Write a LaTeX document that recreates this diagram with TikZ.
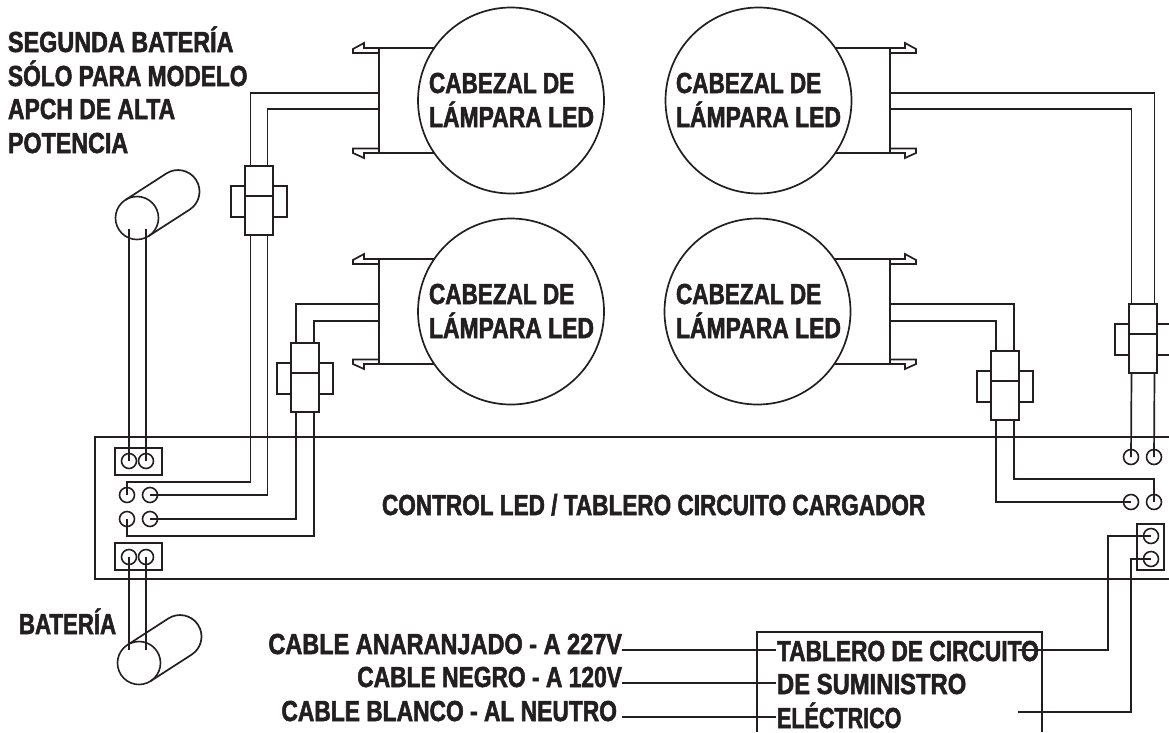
\documentclass[tikz,border=0pt]{standalone}
\usepackage{fontspec}
\newfontfamily\lblfont{Liberation Sans Bold}[FakeStretch=0.79,FakeBold=1.8]
\definecolor{ink}{HTML}{231F20}
\newcommand{\sx}[2]{\scalebox{#1}[1]{#2}}
\tikzset{
  wire/.style={draw=ink,line width=1.7pt,line join=miter},
  head/.style={circle,draw=ink,line width=1.7pt,fill=white,minimum size=186pt,inner sep=0pt,outer sep=0pt},
  term/.style={circle,draw=ink,line width=1.6pt,minimum size=15pt,inner sep=0pt,outer sep=0pt},
  lbl/.style={text=ink,font=\fontsize{29}{29}\selectfont\lblfont,inner sep=0pt,outer sep=0pt},
  lblw/.style={lbl,anchor=base west},
  lble/.style={lbl,anchor=base east},
  tbox/.style={draw=ink,line width=1.7pt,inner sep=0pt,outer sep=0pt}
}
% plug: name, centre x, top y, half wire spacing
\newcommand{\plugshape}[4]{%
  \coordinate (#1-tl) at (#2-#4,#3);
  \coordinate (#1-tr) at (#2+#4,#3);
  \coordinate (#1-bl) at (#2-#4,#3+69);
  \coordinate (#1-br) at (#2+#4,#3+69);
  \draw[wire] (#2-14,#3) rectangle (#2+14,#3+30);
  \draw[wire] (#2-14,#3+30) rectangle (#2+14,#3+69);
  \draw[wire] (#2+14,#3+20) -- (#2+28,#3+20) -- (#2+28,#3+51) -- (#2+14,#3+51);
  \draw[wire] (#2-14,#3+20) -- (#2-28,#3+20) -- (#2-28,#3+51) -- (#2-14,#3+51);
}
% head flange: x of bar, y of top, direction (+1 hooks right, -1 hooks left)
\newcommand{\flange}[3]{%
  \draw[wire] (#1,#2) -- (#1,#2+105);
  \draw[wire] (#1,#2) -- (#1+#3*15,#2) -- (#1+#3*15,#2-5) -- (#1+#3*26,#2+1) -- (#1+#3*26,#2+5) -- (#1,#2+5);
  \draw[wire] (#1,#2+105) -- (#1+#3*15,#2+105) -- (#1+#3*15,#2+110) -- (#1+#3*26,#2+105) -- (#1+#3*26,#2+100.5) -- (#1,#2+100.5);
}
% battery: front circle centre
\newcommand{\battery}[3]{%
  \node[circle,draw=ink,line width=1.6pt,minimum size=43pt,inner sep=0pt,outer sep=0pt] (#1) at (#2,#3) {};
  \draw[wire] (#2-11.7,#3-18) -- (#2+29.3,#3-44.5) arc (-123:57:21.5) -- (#2+11.7,#3+18);
}
\begin{document}
\begin{tikzpicture}[x=1pt,y=1pt,yscale=-1]
\useasboundingbox (0,0) rectangle (1169,732);
\clip (0,0) rectangle (1169,732);
\fill[white] (0,0) rectangle (1169,732);

% main board
\draw[wire] (1169,437) -- (95,437) -- (95,579) -- (1169,579);
\node[lblw] (board) at (382,515) {\sx{0.985}{CONTROL LED / TABLERO CIRCUITO CARGADOR}};

% flanges
\flange{379}{48}{-1}
\flange{890}{48}{1}
\flange{379}{259}{-1}
\flange{890}{259}{1}

% heads
\node[head] (h1) at (511,100.5) {};
\node[head] (h2) at (758.5,100.5) {};
\node[head] (h3) at (511,311.5) {};
\node[head] (h4) at (757.5,311.5) {};
\coordinate (f1) at (379,48);
\coordinate (f1l) at (379,153);
\coordinate (f2) at (890,48);
\coordinate (f2l) at (890,153);
\coordinate (f3) at (379,259);
\coordinate (f3l) at (379,364);
\coordinate (f4) at (890,259);
\coordinate (f4l) at (890,364);
\draw[wire] (f1) -- (f1 -| h1.145.6);
\draw[wire] (f1l) -- (f1l -| h1.214.4);
\draw[wire] (f2) -- (f2 -| h2.34.4);
\draw[wire] (f2l) -- (f2l -| h2.-34.4);
\draw[wire] (f3) -- (f3 -| h3.145.6);
\draw[wire] (f3l) -- (f3l -| h3.214.4);
\draw[wire] (f4) -- (f4 -| h4.34.4);
\draw[wire] (f4l) -- (f4l -| h4.-34.4);

\foreach \n/\x/\y in {l1/429/93,l2/676/93,l3/429/304,l4/676/304}{
  \node[lblw] (\n a) at (\x,\y) {\sx{0.984}{CABEZAL DE}};
  \node[lblw] (\n b) at (\x,\y+34) {LÁMPARA LED};
}

% plugs
\plugshape{pa}{259}{166}{8.5}
\plugshape{pb}{305}{343}{9}
\plugshape{pc}{1005}{351}{9}
\plugshape{pd}{1143}{304}{11.5}

% terminals
\node[tbox,minimum width=47pt,minimum height=27pt] (bx1) at (138.5,461.5) {};
\node[tbox,minimum width=47pt,minimum height=27pt] (bx2) at (138.5,556.5) {};
\node[tbox,minimum width=27pt,minimum height=46pt] (bx3) at (1150.5,547) {};
\node[term] (t1) at (129,461) {};
\node[term] (t2) at (146,461) {};
\node[term] (t3) at (127,495) {};
\node[term] (t4) at (150,495) {};
\node[term] (t5) at (127,519) {};
\node[term] (t6) at (150,519) {};
\node[term] (t7) at (129,557) {};
\node[term] (t8) at (146,557) {};
\node[term] (r1) at (1131,457) {};
\node[term] (r2) at (1154,457) {};
\node[term] (r3) at (1131,502) {};
\node[term] (r4) at (1154,502) {};
\node[term] (r5) at (1151,536) {};
\node[term] (r6) at (1151,559) {};

% batteries
\battery{b1}{137}{218}
\battery{b2}{139}{663}
\coordinate (b1a) at (129,229);
\coordinate (b1b) at (146,229);
\coordinate (b2a) at (129,650);
\coordinate (b2b) at (146,650);
\draw[wire] (b1a) -- (t1.center);
\draw[wire] (b1b) -- (t2.center);
\draw[wire] (b2a) -- (t7.center);
\draw[wire] (b2b) -- (t8.center);

% head wires
\coordinate (h1u) at (379,93);
\coordinate (h1v) at (379,109);
\coordinate (h2u) at (890,93);
\coordinate (h2v) at (890,109);
\coordinate (h3u) at (379,304);
\coordinate (h3v) at (379,321);
\coordinate (h4u) at (890,304);
\coordinate (h4v) at (890,321);
\draw[wire] (h1u) -| (pa-tl);
\draw[wire] (h1v) -| (pa-tr);
\draw[wire] (h2u) -| (pd-tr);
\draw[wire] (h2v) -| (pd-tl);
\draw[wire] (h3u) -| (pb-tl);
\draw[wire] (h3v) -| (pb-tr);
\draw[wire] (h4u) -| (pc-tr);
\draw[wire] (h4v) -| (pc-tl);

% plug to board
\draw[wire] (pa-bl) |- (t3.center|-0,482) -- (t3.center);
\draw[wire] (pa-br) |- (t4.center);
\draw[wire] (pb-bl) |- (t6.center);
\draw[wire] (pb-br) |- (t5.center|-0,536) -- (t5.center);
\draw[wire] (pc-bl) |- (r3.center);
\draw[wire] (pc-br) |- (r4.center|-0,479) -- (r4.center);
\draw[wire] (pd-bl) -- (r1.center);
\draw[wire] (pd-br) -- (r2.center);

% supply panel
\draw[wire] (757,732) -- (757,632) -- (1042,632) -- (1042,732);
\node[lblw] (s1) at (777,661) {\sx{0.992}{TABLERO DE CIRCUITO}};
\node[lblw] (s2) at (777,694) {\sx{1.04}{DE SUMINISTRO}};
\node[lblw] (s3) at (777,728) {\sx{0.94}{ELÉCTRICO}};
\coordinate (s1e) at (1018,650);
\coordinate (s3e) at (1018,712);
\draw[wire] (s1e) -| (1108,536) -- (r5.center);
\draw[wire] (s3e) -| (1131,559) -- (r6.center);

% cable labels
\node[lble] (c1) at (622,654) {\sx{1.025}{CABLE ANARANJADO - A 227V}};
\node[lble] (c2) at (622,687) {\sx{0.995}{CABLE NEGRO - A 120V}};
\node[lble] (c3) at (617,721) {\sx{0.995}{CABLE BLANCO - AL NEUTRO}};
\coordinate (c1e) at (776,650);
\coordinate (c2e) at (776,683);
\coordinate (c3e) at (776,717);
\draw[wire] (c1.base east|-c1e) -- (c1e);
\draw[wire] (c2.base east|-c2e) -- (c2e);
\draw[wire] (622,717) -- (c3e);

% side labels
\node[lblw] (n1) at (8,52) {\sx{1.02}{SEGUNDA BATERÍA}};
\node[lblw] (n2) at (8,86) {\sx{0.992}{SÓLO PARA MODELO}};
\node[lblw] (n3) at (8,119) {APCH DE ALTA};
\node[lblw] (n4) at (8,153) {\sx{1.015}{POTENCIA}};
\node[lblw] (n5) at (19,634) {\sx{0.97}{BATERÍA}};
\end{tikzpicture}
\end{document}
